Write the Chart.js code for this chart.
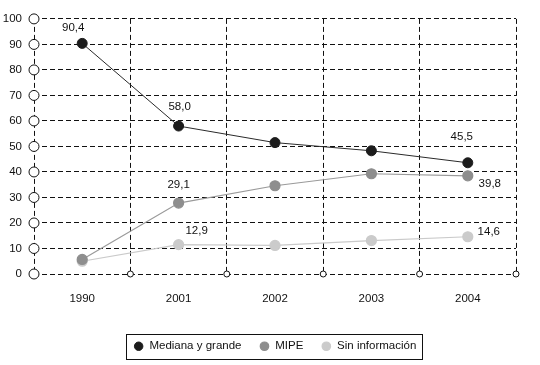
<!DOCTYPE html>
<html>
<head>
<meta charset="utf-8">
<script src="https://cdn.jsdelivr.net/npm/chart.js@4/dist/chart.umd.min.js"></script>
<style>
  html, body { margin: 0; padding: 0; background: #fff; }
  #wrap { width: 540px; height: 365px; position: relative; }
</style>
</head>
<body>
<div id="wrap"><canvas id="chart"></canvas></div>
<script>
// datos
const years = ["1990", "2001", "2002", "2003", "2004"];
const mediana = [90.4, 58.0, 51.5, 48.3, 43.6];
const mipe = [5.7, 27.8, 34.6, 39.3, 38.5];
const sinInfo = [5.0, 11.5, 11.2, 13.1, 14.6];
const medianaLabels = ["90,4", "58,0", "", "", "45,5"];
const mipeLabels = ["", "29,1", "", "", "39,8"];
const sinInfoLabels = ["", "12,9", "", "", "14,6"];
const yTicks = [0, 10, 20, 30, 40, 50, 60, 70, 80, 90, 100];

Chart.defaults.font.family = "'Liberation Sans', Arial, sans-serif";
Chart.defaults.font.size = 11.5;
Chart.defaults.color = "#111";

// desplazamiento de las etiquetas de valor, por serie y punto
const labelOffsets = [
    [[-9, -16], [1, -19], null, null, [-6, -26]],
    [null, [0, -18], null, null, [22, 8]],
    [null, [18, -14], null, null, [21, -5]]
];
const valueLabels = [medianaLabels, mipeLabels, sinInfoLabels];

const valueLabelPlugin = {
    id: "valueLabels",
    afterDatasetsDraw(chart) {
        const ctx = chart.ctx;
        ctx.save();
        ctx.font = "11.5px 'Liberation Sans', Arial, sans-serif";
        ctx.fillStyle = "#111";
        ctx.textAlign = "center";
        ctx.textBaseline = "middle";
        chart.data.datasets.forEach((ds, d) => {
            const meta = chart.getDatasetMeta(d);
            meta.data.forEach((pt, i) => {
                const txt = valueLabels[d][i];
                const off = labelOffsets[d][i];
                if (!txt || !off) return;
                ctx.fillText(txt, pt.x + off[0], pt.y + off[1]);
            });
        });
        ctx.restore();
    }
};

// centra la leyenda bajo el area del grafico
const legendShiftPlugin = {
    id: "legendShift",
    afterLayout(chart) {
        const lg = chart.legend;
        if (!lg) return;
        lg.left = chart.chartArea.left;
        lg.right = chart.chartArea.right;
        lg.width = lg.right - lg.left;
    }
};

// circulos abiertos sobre los ejes y recuadro de la leyenda
const axisMarksPlugin = {
    id: "axisMarks",
    afterDraw(chart) {
        const ctx = chart.ctx;
        const x = chart.scales.x;
        const y = chart.scales.y;
        const area = chart.chartArea;
        ctx.save();
        ctx.strokeStyle = "#111";
        ctx.fillStyle = "#fff";
        ctx.lineWidth = 1;
        yTicks.forEach(v => {
            ctx.beginPath();
            ctx.arc(area.left, y.getPixelForValue(v), 5, 0, Math.PI * 2);
            ctx.fill();
            ctx.stroke();
        });
        for (let i = 1; i <= years.length; i++) {
            ctx.beginPath();
            ctx.arc(x.getPixelForValue(i - 0.5), area.bottom, 3, 0, Math.PI * 2);
            ctx.fill();
            ctx.stroke();
        }
        const boxes = chart.legend.legendHitBoxes;
        if (boxes && boxes.length) {
            const first = boxes[0];
            const last = boxes[boxes.length - 1];
            const left = Math.round(first.left - 8) + 0.5;
            const right = Math.round(last.left + last.width + 6) + 0.5;
            const top = Math.round(first.top - 7) + 0.5;
            const bottom = Math.round(first.top + first.height + 7) + 0.5;
            ctx.strokeRect(left, top, right - left, bottom - top);
        }
        ctx.restore();
    }
};

const ctx = document.getElementById("chart").getContext("2d");
new Chart(ctx, {
    type: "line",
    data: {
        labels: years,
        datasets: [{
            label: "Mediana y grande",
            data: mediana,
            borderColor: "#2a2a2a",
            backgroundColor: "#1c1c1c",
            pointBackgroundColor: "#1c1c1c",
            pointBorderColor: "#1c1c1c",
            borderWidth: 1,
            pointRadius: 5,
            pointHoverRadius: 5,
            tension: 0
        }, {
            label: "MIPE",
            data: mipe,
            borderColor: "#9a9a9a",
            backgroundColor: "#8e8e8e",
            pointBackgroundColor: "#8e8e8e",
            pointBorderColor: "#8e8e8e",
            borderWidth: 1.2,
            pointRadius: 5,
            pointHoverRadius: 5,
            tension: 0
        }, {
            label: "Sin información",
            data: sinInfo,
            borderColor: "#cacaca",
            backgroundColor: "#cbcbcb",
            pointBackgroundColor: "#cbcbcb",
            pointBorderColor: "#cbcbcb",
            borderWidth: 1.2,
            pointRadius: 5,
            pointHoverRadius: 5,
            tension: 0
        }]
    },
    options: {
        responsive: true,
        maintainAspectRatio: false,
        animation: false,
        clip: false,
        layout: { padding: { top: 14, right: 24, left: 0, bottom: 3 } },
        scales: {
            x: {
                offset: true,
                grid: { offset: true, color: "#111", lineWidth: 1, drawTicks: false },
                border: { display: false, dash: [5, 3] },
                ticks: { padding: 18, color: "#111" },
                afterFit(scale) { scale.height = 48.5; }
            },
            y: {
                min: 0,
                max: 100,
                grid: { color: "#111", lineWidth: 1, drawTicks: false },
                border: { display: false, dash: [5, 3] },
                ticks: { stepSize: 10, padding: 12, color: "#111" },
                afterFit(scale) { scale.width = 34; }
            }
        },
        plugins: {
            legend: {
                position: "bottom",
                labels: {
                    usePointStyle: true,
                    pointStyle: "circle",
                    boxWidth: 10,
                    boxHeight: 6,
                    padding: 18,
                    color: "#111"
                }
            },
            tooltip: { enabled: false }
        }
    },
    plugins: [legendShiftPlugin, valueLabelPlugin, axisMarksPlugin]
});
</script>
</body>
</html>
